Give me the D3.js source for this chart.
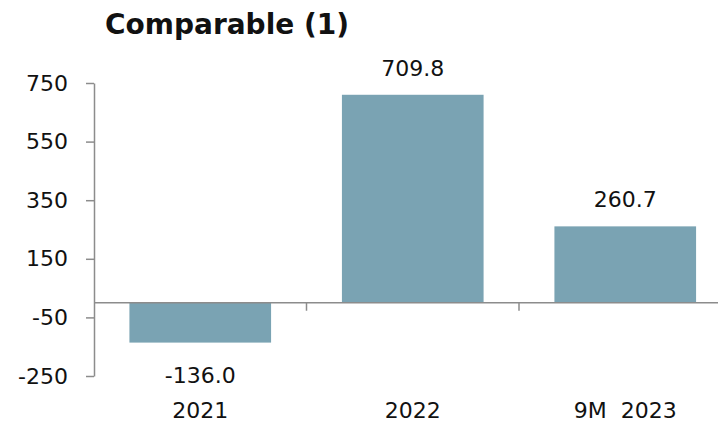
<!DOCTYPE html>
<html>
<head>
<meta charset="utf-8">
<script src="https://cdn.jsdelivr.net/npm/d3@7"></script>
<style>
  body { margin: 0; background: #fff; }
  svg text { font-family: "DejaVu Sans", sans-serif; fill: #111; }
</style>
</head>
<body>
<div id="chart"></div>
<script>
// valores - values
var categories = ['2021', '2022', '9M  2023'];
var values = [-136.0, 709.8, 260.7];
var yTicks = [750, 550, 350, 150, -50, -250];
var title = 'Comparable (1)';

var width = 718, height = 422;
var axisColor = '#8c8c8c';
var barColor = '#7aa3b3';

var svg = d3.select('#chart')
  .append('svg')
  .attr('width', width)
  .attr('height', height);

var y = d3.scaleLinear()
  .domain([-250, 750])
  .range([376, 83]);

var x = d3.scaleBand()
  .domain(categories)
  .range([94, 731.5])
  .paddingInner(1/3)
  .paddingOuter(1/6);

// titulo - title
svg.append('text')
  .text(title)
  .attr('x', 105)
  .attr('y', 34)
  .style('font-size', '28px')
  .style('font-weight', 'bold');

// barras - bars
svg.selectAll('rect.bar')
  .data(values)
  .enter()
  .append('rect')
  .attr('class', 'bar')
  .attr('x', function(d, i) { return x(categories[i]); })
  .attr('width', x.bandwidth())
  .attr('y', function(d) { return y(Math.max(0, d)); })
  .attr('height', function(d) { return Math.abs(y(d) - y(0)); })
  .attr('fill', barColor);

// eixo y - y axis
var yAxis = svg.append('g')
  .attr('transform', 'translate(94,0)')
  .call(d3.axisLeft(y)
    .tickValues(yTicks)
    .tickFormat(function(d) { return String(d); })
    .tickSize(8)
    .tickSizeOuter(0)
    .tickPadding(18));

yAxis.select('.domain').attr('stroke', axisColor).attr('stroke-width', 1.5);
yAxis.selectAll('.tick line').attr('stroke', axisColor).attr('stroke-width', 1.5);
yAxis.selectAll('.tick text')
  .style('font-size', '22px')
  .style('font-family', '"DejaVu Sans", sans-serif')
  .attr('fill', '#111');

// linha do zero - zero line
svg.append('line')
  .attr('x1', 94)
  .attr('x2', width)
  .attr('y1', y(0))
  .attr('y2', y(0))
  .attr('stroke', axisColor)
  .attr('stroke-width', 1.5);

// marcas entre categorias - ticks between categories
svg.selectAll('line.catTick')
  .data(categories.slice(1))
  .enter()
  .append('line')
  .attr('class', 'catTick')
  .attr('x1', function(d) { return x(d) - x.step() * x.paddingInner() / 2; })
  .attr('x2', function(d) { return x(d) - x.step() * x.paddingInner() / 2; })
  .attr('y1', y(0))
  .attr('y2', y(0) + 8)
  .attr('stroke', axisColor)
  .attr('stroke-width', 1.5);

// rotulos de valor - value labels
svg.selectAll('text.valLabel')
  .data(values)
  .enter()
  .append('text')
  .attr('class', 'valLabel')
  .text(function(d) { return d.toFixed(1); })
  .attr('text-anchor', 'middle')
  .attr('x', function(d, i) { return x(categories[i]) + x.bandwidth() / 2; })
  .attr('y', function(d) { return d >= 0 ? y(d) - 19 : y(d) + 40; })
  .style('font-size', '22px');

// rotulos de categoria - category labels
svg.selectAll('text.catLabel')
  .data(categories)
  .enter()
  .append('text')
  .attr('class', 'catLabel')
  .text(function(d) { return d; })
  .attr('text-anchor', 'middle')
  .attr('x', function(d) { return x(d) + x.bandwidth() / 2; })
  .attr('y', 418)
  .style('font-size', '22px')
  .style('white-space', 'pre');
</script>
</body>
</html>
